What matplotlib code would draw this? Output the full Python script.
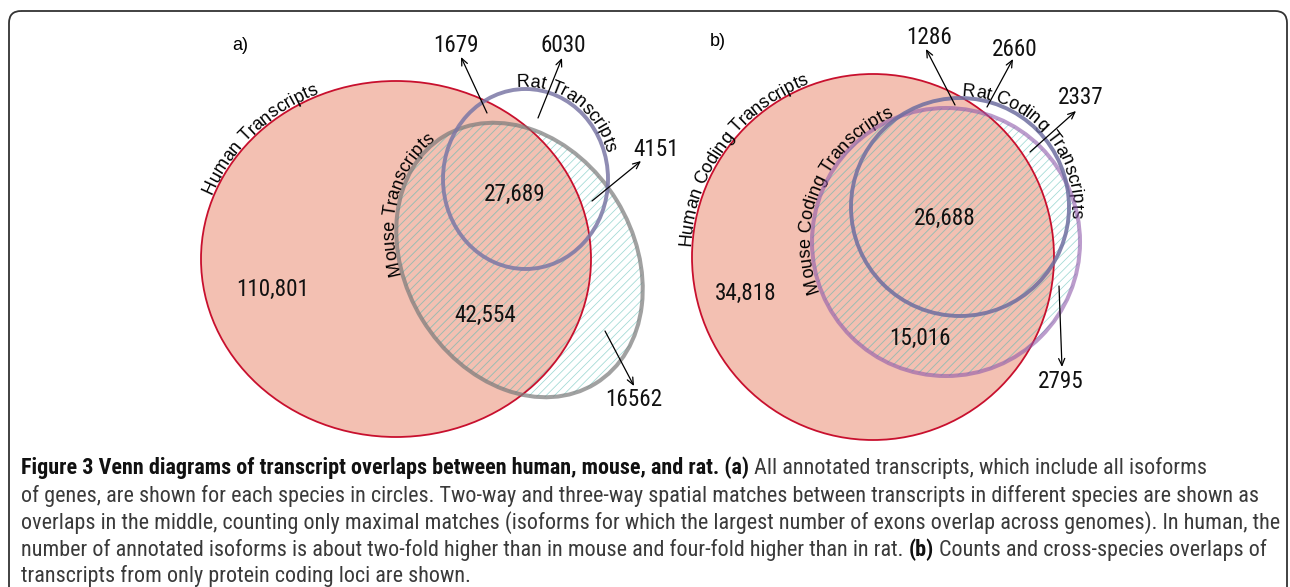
import numpy as np
import matplotlib
matplotlib.use("Agg")
import matplotlib.pyplot as plt
from matplotlib.patches import Ellipse, FancyBboxPatch
from matplotlib.font_manager import FontProperties, fontManager

# --- data -------------------------------------------------------------
REGIONS = ["human only", "human & mouse", "all three", "human & rat",
           "rat only", "mouse & rat", "mouse only"]
counts_a = [110801, 42554, 27689, 1679, 6030, 4151, 16562]
counts_b = [34818, 15016, 26688, 1286, 2660, 2337, 2795]
sets_a = ["Human Transcripts", "Mouse Transcripts", "Rat Transcripts"]
sets_b = ["Human Coding Transcripts", "Mouse Coding Transcripts", "Rat Coding Transcripts"]
panel_tags = ["a)", "b)"]

caption = [
    [("Figure 3 Venn diagrams of transcript overlaps between human, mouse, and rat. (a)", "bold"),
     ("All annotated transcripts, which include all isoforms", "normal")],
    [("of genes, are shown for each species in circles. Two-way and three-way spatial matches "
      "between transcripts in different species are shown as", "normal")],
    [("overlaps in the middle, counting only maximal matches (isoforms for which the largest "
      "number of exons overlap across genomes). In human, the", "normal")],
    [("number of annotated isoforms is about two-fold higher than in mouse and four-fold higher "
      "than in rat.", "normal"), ("(b)", "bold"), ("Counts and cross-species overlaps of", "normal")],
    [("transcripts from only protein coding loci are shown.", "normal")],
]

# --- fonts ------------------------------------------------------------
avail = {f.name for f in fontManager.ttflist}
LABEL = "Liberation Sans" if "Liberation Sans" in avail else "DejaVu Sans"
if "Liberation Sans Narrow" in avail:
    NARROW = "Liberation Sans Narrow"
elif "Roboto Condensed" in avail:
    NARROW = "Roboto Condensed"
else:
    NARROW = LABEL

plt.rcParams["hatch.linewidth"] = 0.55

fig = plt.figure(figsize=(12.9, 5.87), dpi=100)
ax = fig.add_axes([0, 0, 1, 1])
ax.set_xlim(0, 1290)
ax.set_ylim(587, 0)
ax.axis("off")
R = fig.canvas.get_renderer()


def tw(s, fp):
    w1 = R.get_text_width_height_descent("x" + s + "x", fp, ismath=False)[0]
    w0 = R.get_text_width_height_descent("xx", fp, ismath=False)[0]
    return w1 - w0


def arc_text(s, ell, start, size, off=2):
    cx, cy, w, h, ang = ell
    a, b = w / 2 + off, h / 2 + off
    th = np.radians(ang)
    ts = np.linspace(0, 4 * np.pi, 40000)
    ex, ey = a * np.cos(ts), b * np.sin(ts)
    px = cx + ex * np.cos(th) - ey * np.sin(th)
    py = cy + ex * np.sin(th) + ey * np.cos(th)
    dx, dy = start[0] - cx, start[1] - cy
    ux = dx * np.cos(th) + dy * np.sin(th)
    uy = -dx * np.sin(th) + dy * np.cos(th)
    t0 = np.arctan2(uy / b, ux / a) % (2 * np.pi)
    arc = np.concatenate([[0], np.cumsum(np.hypot(np.diff(px), np.diff(py)))])
    arc = arc - arc[np.searchsorted(ts, t0)]
    fp = FontProperties(family=LABEL, size=size)
    for i, ch in enumerate(s):
        if ch == " ":
            continue
        c = (tw(s[:i], fp) + tw(s[:i + 1], fp)) / 2
        j = np.searchsorted(arc, c)
        tx, ty = px[j + 1] - px[j - 1], py[j + 1] - py[j - 1]
        rot = np.degrees(np.arctan2(-ty, tx))
        ax.text(px[j], py[j], ch, fontproperties=fp, rotation=rot,
                rotation_mode="anchor", ha="center", va="baseline", color="black")


# number font size fitted to the widest label
fp_num = FontProperties(family=NARROW, size=10)
NUM_SIZE = 10 * 72 / tw("110,801", fp_num)

HUMAN_FILL = "#f3c0b2"
HUMAN_EDGE = "#c8102e"
HATCH_OUT = "#9fd8d4"
HATCH_IN = "#a9b3a6"


def venn(ells, colors, alphas, names, starts, counts, spots, arrows, tag, tag_xy):
    hum, mou, rat = ells
    ax.add_patch(Ellipse(hum[:2], hum[2], hum[3], angle=hum[4], facecolor=HUMAN_FILL,
                         edgecolor="none", zorder=1))
    ax.add_patch(Ellipse(mou[:2], mou[2], mou[3], angle=mou[4], facecolor="none",
                         edgecolor=HATCH_OUT, lw=0, hatch="////", zorder=2))
    clip = Ellipse(hum[:2], hum[2], hum[3], angle=hum[4], transform=ax.transData)
    inner = Ellipse(mou[:2], mou[2], mou[3], angle=mou[4], facecolor="none",
                    edgecolor=HATCH_IN, lw=0, hatch="////", zorder=2.5)
    ax.add_patch(inner)
    inner.set_clip_path(clip)
    ax.add_patch(Ellipse(hum[:2], hum[2], hum[3], angle=hum[4], facecolor="none",
                         edgecolor=HUMAN_EDGE, lw=1.3, zorder=3))
    ax.add_patch(Ellipse(mou[:2], mou[2], mou[3], angle=mou[4], facecolor="none",
                         edgecolor=colors[0], lw=2.9, alpha=alphas[0], zorder=4))
    ax.add_patch(Ellipse(rat[:2], rat[2], rat[3], angle=rat[4], facecolor="none",
                         edgecolor=colors[1], lw=2.8, alpha=alphas[1], zorder=5))
    for name, e, st in zip(names, ells, starts):
        arc_text(name, e, st, 13)
    for k, (v, xy) in enumerate(zip(counts, spots)):
        lab = f"{v:,}" if k < 3 else str(v)
        ax.text(xy[0], xy[1], lab, family=NARROW, size=NUM_SIZE, ha="center",
                va="center", color="#111111", zorder=6)
    for tail, head in arrows:
        ax.annotate("", xy=head, xytext=tail, zorder=6,
                    arrowprops=dict(arrowstyle="->,head_length=0.5,head_width=0.22",
                                    lw=0.9, color="black", shrinkA=0, shrinkB=0))
    ax.text(tag_xy[0], tag_xy[1], tag, family=LABEL, size=13, ha="center", va="center")


venn(ells=[(396, 259, 390, 356, 0), (519.5, 260, 290, 228, 58.5), (525.5, 179, 165, 180, 0)],
     colors=["#7a7a7a", "#7b78a6"], alphas=[0.7, 0.85], names=sets_a,
     starts=[(204, 192), (392, 275), (516, 80)],
     counts=counts_a,
     spots=[(273, 289), (485, 315), (515, 194), (456, 45), (563, 46), (656, 150), (634, 400)],
     arrows=[((487, 113), (461, 57)), ((538, 118), (562, 58)),
             ((592, 201), (641, 161)), ((605, 331), (634, 386))],
     tag=panel_tags[0], tag_xy=(240, 45))

venn(ells=[(873, 257, 362, 366, 0), (946, 242, 268, 268, 0), (960, 207, 218, 218, 0)],
     colors=["#8f5aab", "#6e6ea0"], alphas=[0.6, 0.85], names=sets_b,
     starts=[(682, 246), (810, 294), (962, 88)],
     counts=counts_b,
     spots=[(746, 293), (920, 338), (945, 218), (929, 38), (1015, 49), (1081, 97), (1061, 381)],
     arrows=[((955, 105), (926, 49)), ((987, 107), (1013, 59)),
             ((1030, 152), (1076, 111)), ((1059, 286), (1062, 367))],
     tag=panel_tags[1], tag_xy=(718, 42))

# frame
ax.add_patch(FancyBboxPatch((9, 11), 1278, 620, boxstyle="round,pad=0,rounding_size=12",
                            facecolor="none", edgecolor="#333333", lw=1.3, zorder=0))


# caption
def line_width(runs, size):
    total = 0
    for k, (text, weight) in enumerate(runs):
        fp = FontProperties(family=NARROW, size=size, weight=weight)
        total += tw(text, fp)
        if k < len(runs) - 1:
            total += tw("a a", fp) - tw("aa", fp)
    return total


line_end = [1190, 1252, 1280, 1266]
CAP_SIZE = np.mean([10 * (e - 21) / line_width(r, 10) for r, e in zip(caption, line_end)])
line_y = [468, 496, 523, 550, 576]
for runs, y in zip(caption, line_y):
    x = 21
    for text, weight in runs:
        fp = FontProperties(family=NARROW, size=CAP_SIZE, weight=weight)
        ax.text(x, y, text, fontproperties=fp, ha="left", va="center",
                color="#111111" if weight == "bold" else "#3a3a3a")
        x += tw(text, fp) + tw("a a", fp) - tw("aa", fp)

fig.savefig("out.png", dpi=100)
